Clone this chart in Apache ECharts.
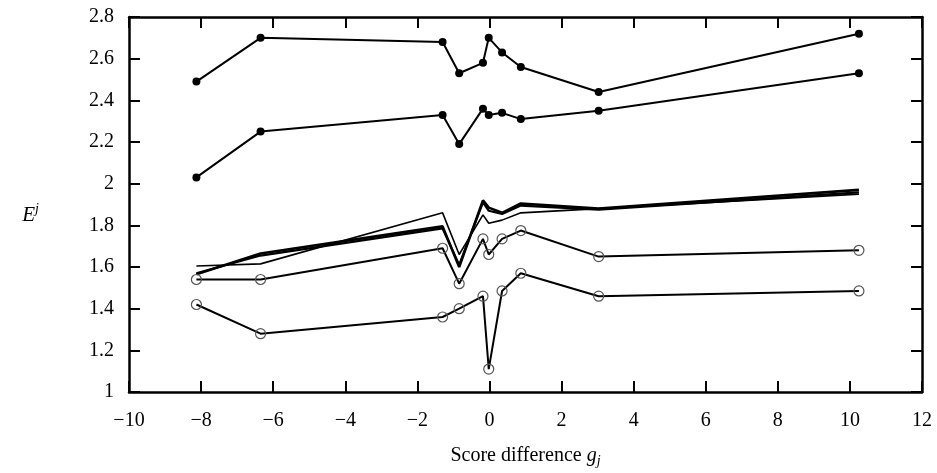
<!DOCTYPE html>
<html>
<head>
<meta charset="utf-8">
<script src="https://cdn.jsdelivr.net/npm/echarts@6/dist/echarts.min.js"></script>
<style>
  html, body { margin: 0; padding: 0; background: #fff; }
  #chart { width: 937px; height: 473px; }
</style>
</head>
<body>
<div id="chart"></div>
<script>
// score difference for each point
const scoreDiff = [-8.13, -6.35, -1.30, -0.84, -0.18, -0.02, 0.35, 0.87, 3.03, 10.25];

// series with filled markers
const filledTop = [2.49, 2.70, 2.68, 2.53, 2.58, 2.70, 2.63, 2.56, 2.44, 2.72];
const filledLow = [2.03, 2.25, 2.33, 2.19, 2.36, 2.33, 2.34, 2.31, 2.35, 2.53];

// series with open markers
const openUp = [1.54, 1.54, 1.69, 1.52, 1.735, 1.66, 1.735, 1.775, 1.65, 1.68];
const openLow = [1.42, 1.28, 1.36, 1.40, 1.46, 1.11, 1.485, 1.57, 1.46, 1.485];

// plain lines (no markers)
const lineA = [1.605, 1.615, 1.86, 1.66, 1.85, 1.81, 1.825, 1.86, 1.88, 1.95];
const lineB = [1.565, 1.665, 1.795, 1.60, 1.92, 1.885, 1.86, 1.905, 1.88, 1.97];
const lineC = [1.57, 1.655, 1.785, 1.61, 1.91, 1.87, 1.855, 1.895, 1.875, 1.958];

const FONT = "Liberation Serif";

function pairs(ys) {
  return scoreDiff.map((x, i) => [x, ys[i]]);
}

const chart = echarts.init(document.getElementById("chart"));

const frameLine = { show: true, onZero: false, lineStyle: { color: "#000", width: 2.5 } };
const tickIn = { show: true, inside: true, length: 11, lineStyle: { color: "#000", width: 2 } };

function lineSeries(ys, width) {
  return {
    type: "line",
    data: pairs(ys),
    symbol: "none",
    lineStyle: { color: "#000", width: width },
    z: 2,
  };
}

function markerSeries(ys, filled) {
  return {
    type: "line",
    data: pairs(ys),
    symbol: "circle",
    symbolSize: filled ? 8 : 10,
    showAllSymbol: true,
    lineStyle: { color: "#000", width: 2 },
    itemStyle: filled
      ? { color: "#000", borderWidth: 0 }
      : { color: "rgba(255,255,255,0)", borderColor: "#555", borderWidth: 1.2 },
    z: 3,
  };
}

chart.setOption({
  animation: false,
  grid: { left: 129, right: 15, top: 17, bottom: 80 },
  xAxis: [
    {
      type: "value",
      min: -10,
      max: 12,
      interval: 2,
      axisLine: frameLine,
      axisTick: tickIn,
      splitLine: { show: false },
      axisLabel: {
        fontFamily: FONT,
        fontSize: 20,
        color: "#000",
        margin: 19,
        formatter: (v) => String(v).replace("-", "\u2212"),
      },
      name: "Score difference {it|g}{sub|j}",
      nameLocation: "middle",
      nameGap: 52,
      nameTextStyle: {
        fontFamily: FONT,
        fontSize: 20,
        color: "#000",
        rich: {
          it: { fontFamily: FONT, fontStyle: "italic", fontSize: 20, color: "#000" },
          sub: { fontFamily: FONT, fontStyle: "italic", fontSize: 14, color: "#000", verticalAlign: "bottom", padding: [10, 0, 0, 0] },
        },
      },
    },
    {
      type: "value",
      position: "top",
      min: -10,
      max: 12,
      interval: 2,
      axisLine: frameLine,
      axisTick: tickIn,
      axisLabel: { show: false },
      splitLine: { show: false },
    },
  ],
  yAxis: [
    {
      type: "value",
      min: 1,
      max: 2.8,
      interval: 0.2,
      axisLine: frameLine,
      axisTick: tickIn,
      splitLine: { show: false },
      axisLabel: {
        fontFamily: FONT,
        fontSize: 20,
        color: "#000",
        margin: 15,
        formatter: (v) => String(Math.round(v * 10) / 10),
      },
      name: "{it|E}{sup|j}",
      nameLocation: "middle",
      nameRotate: 0,
      nameGap: 90,
      nameTextStyle: {
        padding: [22, 0, 0, 0],
        rich: {
          it: { fontFamily: FONT, fontStyle: "italic", fontSize: 21, color: "#000" },
          sup: { fontFamily: FONT, fontStyle: "italic", fontSize: 14, color: "#000", verticalAlign: "top", padding: [0, 0, 12, 0] },
        },
      },
    },
    {
      type: "value",
      position: "right",
      min: 1,
      max: 2.8,
      interval: 0.2,
      axisLine: frameLine,
      axisTick: tickIn,
      axisLabel: { show: false },
      splitLine: { show: false },
    },
  ],
  series: [
    lineSeries(lineA, 1.6),
    lineSeries(lineB, 2.6),
    lineSeries(lineC, 2.2),
    markerSeries(filledTop, true),
    markerSeries(filledLow, true),
    markerSeries(openUp, false),
    markerSeries(openLow, false),
  ],
});
</script>
</body>
</html>
